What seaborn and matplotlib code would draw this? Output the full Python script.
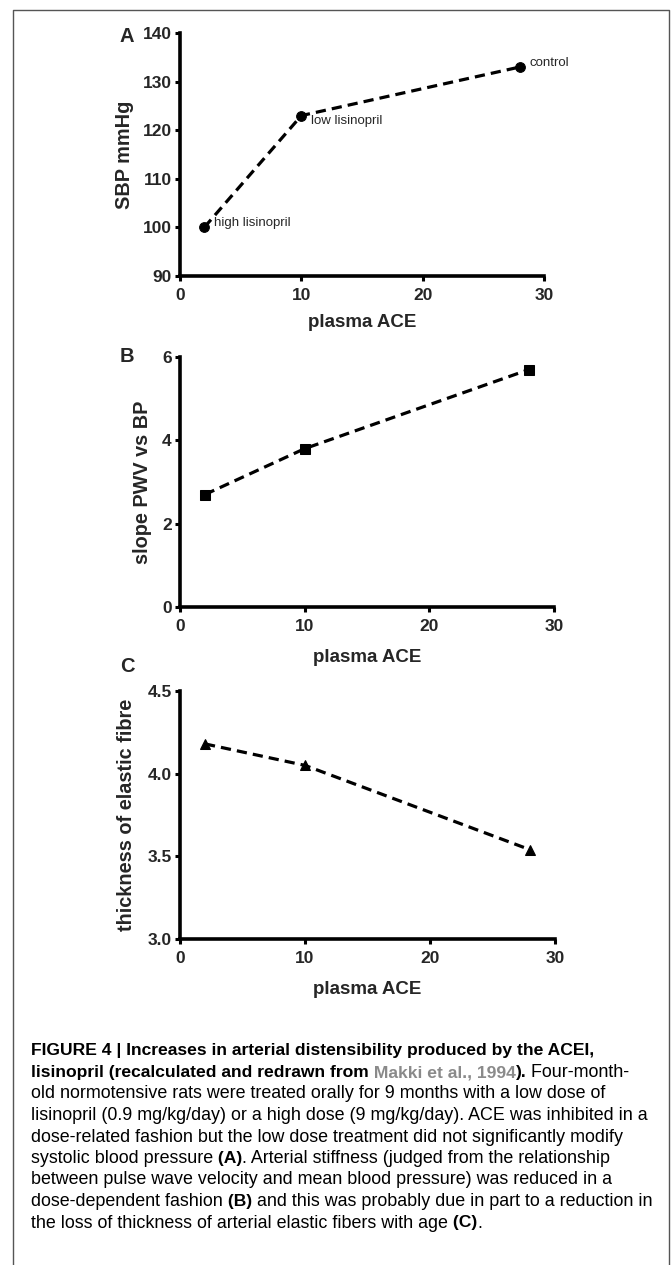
import numpy as np
import pandas as pd
import matplotlib
matplotlib.use('Agg')
import matplotlib.pyplot as plt
from matplotlib.lines import Line2D
import seaborn as sns

# ==================== DATA ====================
plasma_ace = [2, 10, 28]
groups = ['high lisinopril', 'low lisinopril', 'control']
sbp = [100, 123, 133]
slope_pwv_bp = [2.7, 3.8, 5.7]
fibre_thickness = [4.18, 4.05, 3.54]

sbp_ticks = [90, 100, 110, 120, 130, 140]
slope_ticks = [0, 2, 4, 6]
fibre_ticks = [3.0, 3.5, 4.0, 4.5]
x_ticks = [0, 10, 20, 30]

# ==================== STYLE ====================
sns.set_style('ticks')
plt.rcParams['font.family'] = ['Liberation Sans', 'DejaVu Sans']
NARROW = ['Liberation Sans Narrow', 'Liberation Sans', 'DejaVu Sans']

W, H = 671, 1265
fig = plt.figure(figsize=(W / 100, H / 100), dpi=100)


def px_axes(left, top, right, bottom):
    return fig.add_axes([left / W, 1 - bottom / H, (right - left) / W, (bottom - top) / H])


def draw_panel(ax, y, marker, msize, ylim, yticks, yfmt, ylabel):
    df = pd.DataFrame({'ace': plasma_ace, 'val': y})
    sns.lineplot(data=df, x='ace', y='val', ax=ax, color='black', marker=marker,
                 markersize=msize, markeredgecolor='black', linewidth=2.3,
                 linestyle='--')
    ax.lines[0].set_dashes((3.2, 1.9))
    ax.set_xlim(0, 30)
    ax.set_ylim(*ylim)
    ax.set_xticks(x_ticks)
    ax.set_yticks(yticks)
    ax.set_yticklabels([yfmt.format(v) for v in yticks])
    for lab in ax.get_xticklabels() + ax.get_yticklabels():
        lab.set_fontfamily(NARROW)
        lab.set_fontweight('bold')
        lab.set_fontsize(12.5)
    ax.tick_params(axis='both', direction='out', width=2.2, length=3.5, color='black')
    ax.tick_params(axis='y', pad=2.5)
    ax.tick_params(axis='x', pad=5)
    sns.despine(ax=ax)
    for s in ['left', 'bottom']:
        ax.spines[s].set_linewidth(2.6)
        ax.spines[s].set_color('black')
    ax.set_xlabel('plasma ACE', fontsize=13.5, fontweight='bold')
    ax.set_ylabel(ylabel, fontsize=14.3, fontweight='bold')
    ax.xaxis.label.set_va('center')
    ax.yaxis.label.set_va('center')
    ax.yaxis.label.set_ha('center')
    return ax


# ==================== PANEL A ====================
axA = px_axes(180, 33, 544, 276)
draw_panel(axA, sbp, 'o', 7, (90, 140), sbp_ticks, '{:d}', 'SBP mmHg')
axA.xaxis.set_label_coords(0.5, -0.193)
axA.yaxis.set_label_coords((124 - 180) / 364, 0.5)
for gx, gy, name in zip(plasma_ace, sbp, groups):
    dy = -4 if name == 'low lisinopril' else 3
    axA.annotate(name, (gx, gy), xytext=(7, dy), textcoords='offset points',
                 fontsize=9.5, fontfamily=NARROW, va='center', ha='left')
fig.text(127 / W, 1 - 37 / H, 'A', fontsize=14.5, fontweight='bold', ha='center', va='center')

# ==================== PANEL B ====================
axB = px_axes(180, 357, 554, 607)
draw_panel(axB, slope_pwv_bp, 's', 6.5, (0, 6), slope_ticks, '{:d}', 'slope PWV vs BP')
axB.xaxis.set_label_coords(0.5, -0.2)
axB.yaxis.set_label_coords((143 - 180) / 374, 0.5)
fig.text(127 / W, 1 - 357 / H, 'B', fontsize=14.5, fontweight='bold', ha='center', va='center')

# ==================== PANEL C ====================
axC = px_axes(180, 691, 555, 939)
draw_panel(axC, fibre_thickness, '^', 7, (3.0, 4.5), fibre_ticks, '{:.1f}',
           'thickness of elastic fibre')
axC.xaxis.set_label_coords(0.5, -0.202)
axC.yaxis.set_label_coords((127 - 180) / 375, 0.5)
fig.text(127 / W, 1 - 667 / H, 'C', fontsize=14.5, fontweight='bold', ha='center', va='center')

# ==================== FRAME ====================
fx = [13 / W, 13 / W, 669 / W, 669 / W]
fy = [0, 1 - 10 / H, 1 - 10 / H, 0]
fig.add_artist(Line2D(fx, fy, transform=fig.transFigure, color='#555555', linewidth=1.0))

# ==================== CAPTION ====================
CAP_FS = {'normal': 12.9, 'bold': 12.6}
GRAY = '#8a8a8a'
caption = [
    [('FIGURE 4 | Increases in arterial distensibility produced by the ACEI,', 'bold', 'black')],
    [('lisinopril (recalculated and redrawn from', 'bold', 'black'),
     (' Makki et al., 1994', 'bold', GRAY),
     (').', 'bold', 'black'),
     (' Four-month-', 'normal', 'black')],
    [('old normotensive rats were treated orally for 9 months with a low dose of', 'normal', 'black')],
    [('lisinopril (0.9 mg/kg/day) or a high dose (9 mg/kg/day). ACE was inhibited in a', 'normal', 'black')],
    [('dose-related fashion but the low dose treatment did not significantly modify', 'normal', 'black')],
    [('systolic blood pressure', 'normal', 'black'), (' (A)', 'bold', 'black'),
     ('. Arterial stiffness (judged from the relationship', 'normal', 'black')],
    [('between pulse wave velocity and mean blood pressure) was reduced in a', 'normal', 'black')],
    [('dose-dependent fashion', 'normal', 'black'), (' (B)', 'bold', 'black'),
     (' and this was probably due in part to a reduction in', 'normal', 'black')],
    [('the loss of thickness of arterial elastic fibers with age', 'normal', 'black'),
     (' (C)', 'bold', 'black'), ('.', 'normal', 'black')],
]
renderer = fig.canvas.get_renderer()
y0, dy = 1051, 21.5
for i, parts in enumerate(caption):
    x = 31
    for text, weight, color in parts:
        t = fig.text(x / W, 1 - (y0 + i * dy) / H, text, fontsize=CAP_FS[weight],
                     fontweight=weight, color=color, ha='left', va='center',
                     fontfamily=NARROW if weight == 'bold' else ['Liberation Sans', 'DejaVu Sans'])
        x += t.get_window_extent(renderer).width

fig.savefig('out.png', dpi=100)
